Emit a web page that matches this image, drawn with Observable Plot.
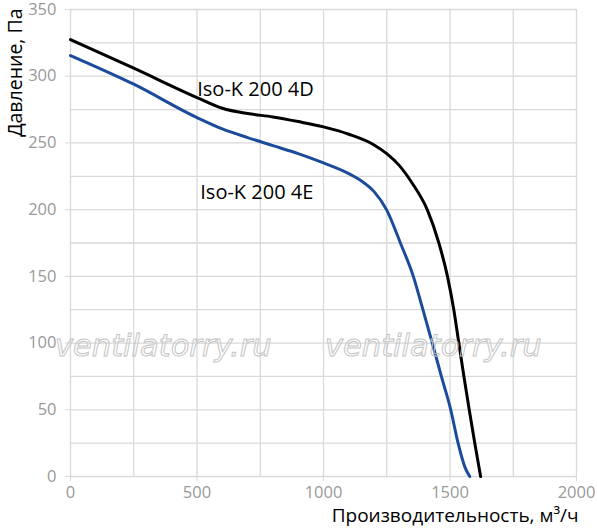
<!DOCTYPE html>
<html>
<head>
<meta charset="utf-8">
<script src="https://cdn.jsdelivr.net/npm/d3@7"></script>
<script src="https://cdn.jsdelivr.net/npm/@observablehq/plot@0.6"></script>
<style>
  html, body { margin: 0; padding: 0; background: #fff; }
  #wrap { position: relative; width: 597px; height: 532px; }
  .wm { position: absolute; font-family: "DejaVu Sans", sans-serif; font-style: italic; line-height: 1;
        font-size: 30.5px; color: transparent; -webkit-text-stroke: 1px #c4c4c4; pointer-events: none; white-space: nowrap; }
</style>
</head>
<body>
<div id="wrap"></div>
<script>
// Series: Iso-K 200 4D (black)
const x4D = [0, 250, 500, 600, 700, 800, 900, 1000, 1100, 1200, 1250, 1300, 1350, 1410, 1456, 1490, 1515, 1535, 1555, 1576, 1598, 1621];
const y4D = [327.5, 306, 284, 276, 272, 269.5, 266, 262, 256.5, 248.5, 242, 233, 220, 200, 175, 150, 125, 100, 75, 50, 25, 0];
// Series: Iso-K 200 4E (blue)
const x4E = [0, 250, 500, 600, 700, 800, 900, 1000, 1100, 1150, 1200, 1249, 1304, 1355, 1393, 1430, 1466, 1503, 1532, 1559, 1578];
const y4E = [315.5, 294, 269, 260.5, 254, 248, 242, 235, 227, 221.5, 213.5, 200, 175, 150, 125, 100, 75, 50, 25, 7, 0];

const seriesNames = ["Iso-K 200 4D", "Iso-K 200 4E"];
const seriesColors = ["#000000", "#1c4b9c"];
const labelX = [501, 513];
const labelY = [290, 213];

const xTicks = [0, 500, 1000, 1500, 2000];
const yTicks = [0, 50, 100, 150, 200, 250, 300, 350];
const xGrid = d3.range(0, 2001, 250);
const yGrid = d3.range(0, 351, 25);
const xTitle = "Производительность, м³/ч";
const yTitle = "Давление, Па";
const watermark = "ventilatorry.ru";

const d4D = x4D.map((x, i) => ({x, y: y4D[i]}));
const d4E = x4E.map((x, i) => ({x, y: y4E[i]}));
const labels = seriesNames.map((name, i) => ({name, x: labelX[i], y: labelY[i]}));

const font = "'Open Sans', 'Noto Sans', sans-serif";

const chart = Plot.plot({
  width: 597,
  height: 532,
  marginLeft: 70,
  marginRight: 21,
  marginTop: 9,
  marginBottom: 56,
  style: { fontFamily: font, background: "#fff", overflow: "visible" },
  x: { domain: [0, 2000] },
  y: { domain: [0, 350] },
  marks: [
    Plot.gridX(xGrid, { stroke: "#d9d9d9", strokeOpacity: 1, strokeWidth: 1.3 }),
    Plot.gridY(yGrid, { stroke: "#d9d9d9", strokeOpacity: 1, strokeWidth: 1.3 }),
    Plot.axisX(xTicks, { tickSize: 5, tickPadding: 5, stroke: "#d9d9d9", color: "#999", fontSize: 16.5, tickFormat: d => String(d), label: null }),
    Plot.axisY(yTicks, { tickSize: 5, tickPadding: 9, stroke: "#d9d9d9", color: "#999", fontSize: 16.5, tickFormat: d => String(d), label: null }),
    Plot.text([xTitle], { frameAnchor: "bottom-right", textAnchor: "end", dy: 45, dx: 2, fontSize: 19, fill: "#000" }),
    Plot.text([yTitle], { frameAnchor: "top-left", textAnchor: "end", rotate: -90, dx: -62, dy: -1, fontSize: 19.5, fill: "#000" }),
    Plot.line(d4D, { x: "x", y: "y", stroke: seriesColors[0], strokeWidth: 3, curve: "monotone-x" }),
    Plot.line(d4E, { x: "x", y: "y", stroke: seriesColors[1], strokeWidth: 3, curve: "monotone-x" }),
    Plot.text(labels, { x: "x", y: "y", text: "name", textAnchor: "start", fontSize: 20, fill: "#000" })
  ]
});
const wrap = document.getElementById("wrap");
wrap.appendChild(chart);
[55, 325].forEach(left => {
  const d = document.createElement("div");
  d.className = "wm";
  d.textContent = watermark;
  d.style.left = left + "px";
  d.style.top = "331px";
  wrap.appendChild(d);
});
</script>
</body>
</html>
